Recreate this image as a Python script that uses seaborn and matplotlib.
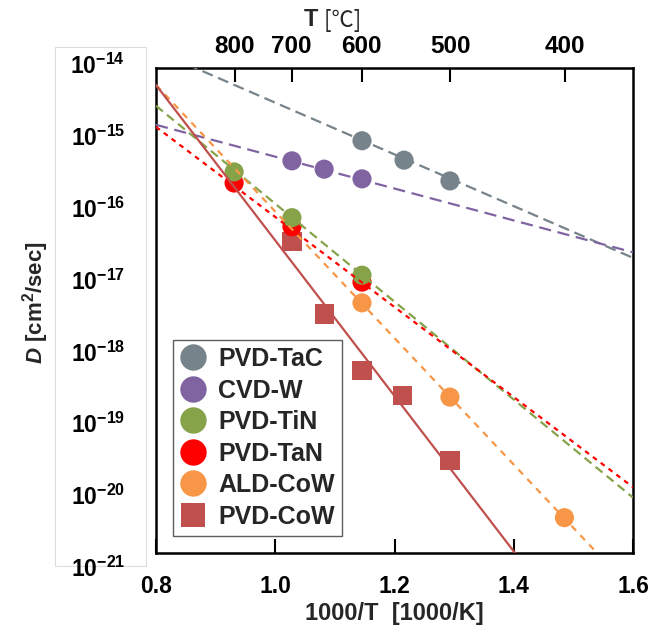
import numpy as np
import pandas as pd
import seaborn as sns
import matplotlib
matplotlib.use("Agg")
import matplotlib.pyplot as plt
from matplotlib.lines import Line2D
from matplotlib.patches import Rectangle

# ---------------- data ----------------
series = ["PVD-TaC", "CVD-W", "PVD-TiN", "PVD-TaN", "ALD-CoW", "PVD-CoW"]
colors = ["#76838A", "#8064A2", "#86A34A", "#FF0000", "#F79646", "#C0504D"]

tac_x = [1.1455, 1.216, 1.293]
tac_logD = [-15.05, -15.33, -15.63]
w_x = [1.028, 1.082, 1.1455]
w_logD = [-15.34, -15.46, -15.60]
tin_x = [0.931, 1.028, 1.1455]
tin_logD = [-15.50, -16.16, -16.99]
tan_x = [0.931, 1.028, 1.1455]
tan_logD = [-15.66, -16.29, -17.09]
aldcow_x = [1.1455, 1.293, 1.485]
aldcow_logD = [-17.39, -18.75, -20.49]
pvdcow_x = [1.028, 1.083, 1.1455, 1.214, 1.293]
pvdcow_logD = [-16.51, -17.55, -18.36, -18.73, -19.67]

# Arrhenius fit lines: log10(D) at 1000/T = 0.8 and 1.6
fit_x = [0.8, 1.6]
fit_logD_start = [-13.754, -14.82, -14.545, -14.85, -14.245, -14.245]
fit_logD_end = [-16.74, -16.66, -20.20, -20.05, -21.55, -23.22]

top_T_C = [800, 700, 600, 500, 400]
x_ticks = [0.8, 1.0, 1.2, 1.4, 1.6]
y_exps = [-14, -15, -16, -17, -18, -19, -20, -21]

# ---------------- frames ----------------
xs = dict(zip(series, [tac_x, w_x, tin_x, tan_x, aldcow_x, pvdcow_x]))
ys = dict(zip(series, [tac_logD, w_logD, tin_logD, tan_logD, aldcow_logD, pvdcow_logD]))
draw_order = ["PVD-CoW", "ALD-CoW", "PVD-TaN", "PVD-TiN", "CVD-W", "PVD-TaC"]
pts = pd.concat([
    pd.DataFrame({"series": s, "x": xs[s], "D": 10.0 ** np.array(ys[s])})
    for s in draw_order
], ignore_index=True)
lines = pd.concat([
    pd.DataFrame({"series": s, "x": fit_x, "D": 10.0 ** np.array([a, b])})
    for s, a, b in zip(series, fit_logD_start, fit_logD_end)
], ignore_index=True)

palette = dict(zip(series, colors))
markers = {s: ("s" if s == "PVD-CoW" else "o") for s in series}
dashes = {
    "PVD-TaC": (5.0, 2.6),
    "CVD-W": (5.5, 3.0),
    "PVD-TiN": (4.0, 2.4),
    "PVD-TaN": (2.2, 2.2),
    "ALD-CoW": (3.0, 2.8),
    "PVD-CoW": "",
}

# ---------------- plot ----------------
sns.set_theme(style="white")
plt.rcParams["font.family"] = ["Liberation Sans", "DejaVu Sans"]
plt.rcParams["font.weight"] = "bold"
plt.rcParams["mathtext.fontset"] = "custom"
plt.rcParams["mathtext.bf"] = "Liberation Sans:bold"
plt.rcParams["mathtext.it"] = "Liberation Sans:bold:italic"
plt.rcParams["mathtext.rm"] = "Liberation Sans:bold"

fig = plt.figure(figsize=(6.53, 6.32), dpi=100)
ax = fig.add_axes([156 / 653, 1 - 553 / 632, 477 / 653, 485 / 632])

sns.scatterplot(data=pts, x="x", y="D", hue="series", style="series",
                palette=palette, markers=markers, s=190, linewidth=0,
                legend=False, ax=ax, zorder=2)
sns.lineplot(data=lines, x="x", y="D", hue="series", style="series",
             palette=palette, dashes=dashes, linewidth=1.6,
             legend=False, ax=ax, zorder=3)

ax.set_yscale("log")
ax.set_xlim(0.8, 1.6)
ax.set_ylim(10.0 ** y_exps[-1], 10.0 ** y_exps[0])

ax.set_xticks(x_ticks)
ax.set_xticklabels([f"{v:.1f}" for v in x_ticks], fontsize=16.5, fontweight="bold")
ax.set_yticks([10.0 ** e for e in y_exps])
ax.minorticks_off()
ax.tick_params(axis="x", direction="in", length=10, width=1.5, pad=16, colors="black")
ax.tick_params(axis="y", direction="in", length=10, width=1.5, labelleft=False,
               colors="black")
for sp in ax.spines.values():
    sp.set_color("black")
    sp.set_linewidth(1.8)

ax.set_xlabel("1000/T  [1000/K]", fontsize=17, fontweight="bold", labelpad=3)
ax.set_ylabel("")

# top axis in deg C
top = ax.twiny()
top.set_xlim(ax.get_xlim())
top.set_xticks([1000.0 / (t + 273.15) for t in top_T_C])
top.set_xticklabels([str(t) for t in top_T_C], fontsize=17.5, fontweight="bold")
top.tick_params(axis="x", direction="in", length=10, width=1.5, pad=7, colors="black")
top.grid(False)
for sp in top.spines.values():
    sp.set_visible(False)

# separate (pasted) panel holding the y tick labels, as in the reference
lab = fig.add_axes([125 / 653, 1 - 567 / 632, 20 / 653, 503 / 632])
lab.set_yscale("log")
lab.set_ylim(10.0 ** y_exps[-1], 10.0 ** y_exps[0])
lab.set_yticks([10.0 ** e for e in y_exps])
lab.set_yticklabels([rf"$\mathbf{{10^{{{e}}}}}$" for e in y_exps], fontsize=16.5)
lab.minorticks_off()
lab.set_xticks([])
lab.set_frame_on(False)
lab.patch.set_visible(False)
lab.tick_params(axis="y", length=0, pad=0, colors="black")

fig.add_artist(Rectangle((55 / 653, 1 - 566 / 632), 91 / 653, 519 / 632,
                         transform=fig.transFigure, fill=False,
                         edgecolor="#DDDDDD", linewidth=0.8, zorder=0))

fig.text(318 / 653, 1 - 20 / 632, "T", fontsize=17, fontweight="bold",
         ha="right", va="center")
fig.text(319 / 653, 1 - 20 / 632, " [℃]", fontsize=16, fontweight="normal",
         family=["Noto Sans CJK JP", "DejaVu Sans"], ha="left", va="center")

fig.text(36 / 653, 1 - 303 / 632, r"$D$ [cm$^\mathbf{2}$/sec]", fontsize=16,
         fontweight="bold", rotation=90, ha="center", va="center")

handles = [Line2D([], [], linestyle="none", marker=markers[s], color=palette[s],
                  markersize=19 if markers[s] == "o" else 17, markeredgewidth=0)
           for s in series]
leg = ax.legend(handles, series, loc="lower left", bbox_to_anchor=(0.036, 0.035),
                borderaxespad=0, frameon=True, fancybox=False, handletextpad=0.5,
                handlelength=1.0, labelspacing=0.3, borderpad=0.3,
                prop={"size": 18, "weight": "bold"})
leg.get_frame().set_edgecolor("#333333")
leg.get_frame().set_linewidth(1.0)
leg.set_zorder(5)

fig.savefig("out.png", dpi=100)
